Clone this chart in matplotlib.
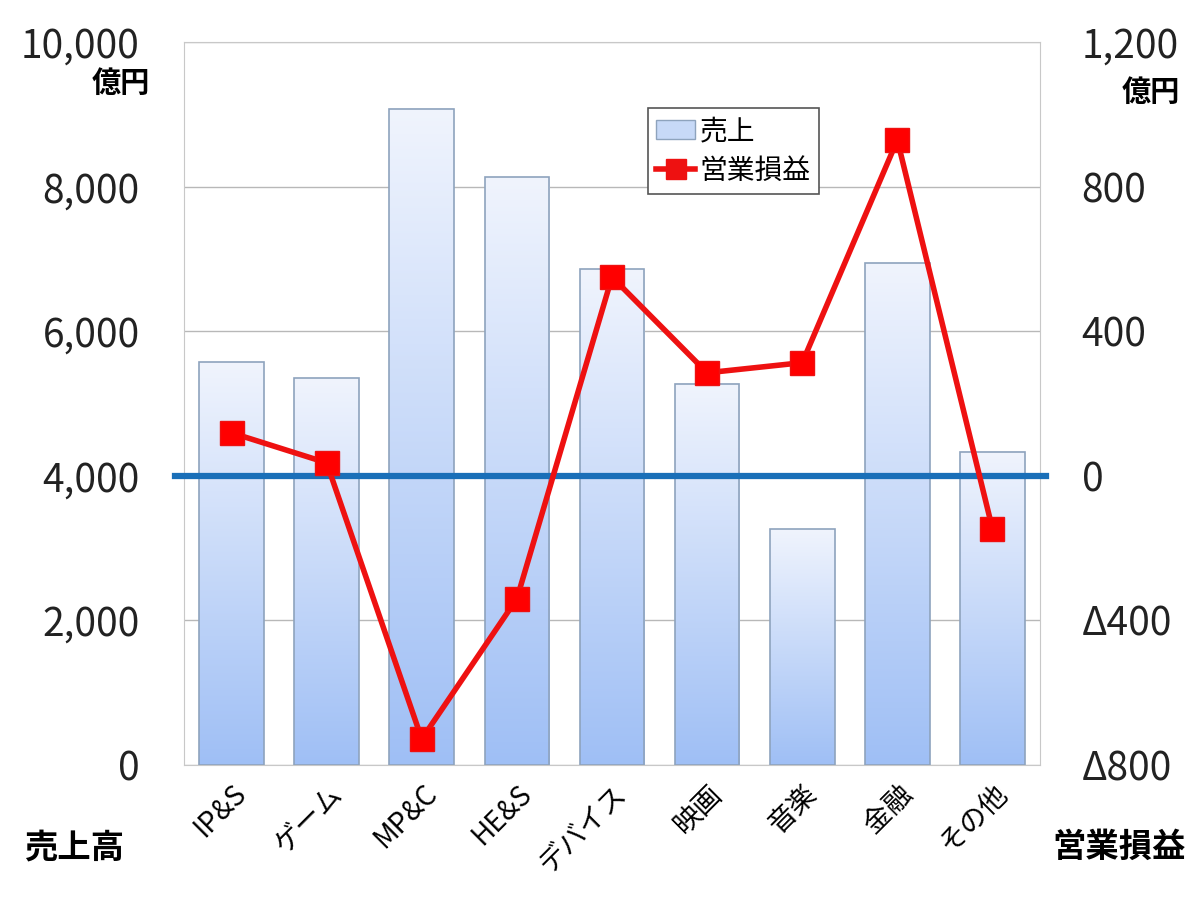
import numpy as np
import matplotlib.pyplot as plt
from matplotlib.colors import LinearSegmentedColormap
from matplotlib.patches import Patch
from matplotlib.lines import Line2D

plt.rcParams['font.family'] = ['Noto Sans CJK JP', 'DejaVu Sans']

categories = ['IP&S', 'ゲーム', 'MP&C', 'HE&S', 'デバイス', '映画', '音楽', '金融', 'その他']
sales = [5570, 5350, 9080, 8130, 6860, 5270, 3260, 6940, 4330]
profit = [119, 36, -728, -340, 550, 285, 313, 929, -147]

left_ticks = [0, 2000, 4000, 6000, 8000, 10000]
left_labels = ['0', '2,000', '4,000', '6,000', '8,000', '10,000']
right_ticks = [-800, -400, 0, 400, 800, 1200]
right_labels = ['Δ800', 'Δ400', '0', '400', '800', '1,200']

fig = plt.figure(figsize=(12, 9), dpi=100)
ax = fig.add_axes([0.1533, 0.15, 0.7134, 0.8033])
ax2 = ax.twinx()

x = np.arange(len(categories))
width = 0.68
grad = LinearSegmentedColormap.from_list('g', ['#9fbff5', '#f0f4fd'])
bars = ax.bar(x, sales, width, facecolor='none', edgecolor='#8ea3bd', linewidth=1.2, zorder=3)
for b in bars:
    x0, y0, w, h = b.get_x(), b.get_y(), b.get_width(), b.get_height()
    ax.imshow(np.linspace(0, 1, 256).reshape(-1, 1), cmap=grad, origin='lower',
              extent=[x0, x0 + w, y0, y0 + h], aspect='auto', zorder=2)

ax.set_xlim(-0.5, len(categories) - 0.5)
ax.set_ylim(0, 10000)
ax.set_yticks(left_ticks)
ax.set_yticklabels(left_labels)
ax.grid(axis='y', color='#b8b8b8', linewidth=1, zorder=1)
ax.set_axisbelow(True)
ax.set_xticks(x)
ax.set_xticklabels(categories, rotation=45, ha='right', rotation_mode='anchor', fontsize=20)
ax.tick_params(axis='x', length=0, pad=10)
ax.tick_params(axis='y', length=0, pad=32, labelsize=28, labelcolor='#222222')
for s in ax.spines.values():
    s.set_color('#c8c8c8')

ax2.set_ylim(-800, 1200)
ax2.set_yticks(right_ticks)
ax2.set_yticklabels(right_labels)
ax2.tick_params(axis='y', length=0, pad=30, labelsize=28, labelcolor='#222222')
for s in ax2.spines.values():
    s.set_visible(False)

# zero line of the profit axis, a bit wider than the plot area
ax2.add_line(Line2D([-0.011, 1.007], [0.4, 0.4], transform=ax2.transAxes,
                    color='#1a6fb8', linewidth=4.5, clip_on=False, zorder=4))
ax2.plot(x, profit, color='#ee1111', linewidth=4, marker='s', markersize=17,
         markerfacecolor='#ff0000', markeredgecolor='#ee1111', zorder=5)

handles = [Patch(facecolor='#c7d9f7', edgecolor='#8ea3bd'),
           Line2D([], [], color='#ee1111', linewidth=4, marker='s', markersize=15)]
leg = ax2.legend(handles, ['売上', '営業損益'], loc='upper left', bbox_to_anchor=(0.542, 0.909),
                 borderaxespad=0, fontsize=20, fancybox=False, framealpha=1, edgecolor='#555555',
                 handlelength=1.4, handletextpad=0.15, borderpad=0.3, labelspacing=0.35)
leg.get_frame().set_linewidth(1.2)

fig.text(0.125, 0.908, '億円', fontsize=21, fontweight='bold', ha='right', va='center')
fig.text(0.983, 0.898, '億円', fontsize=21, fontweight='bold', ha='right', va='center')
fig.text(0.02, 0.058, '売上高', fontsize=24, fontweight='bold', ha='left', va='center')
fig.text(0.988, 0.058, '営業損益', fontsize=24, fontweight='bold', ha='right', va='center')

fig.savefig('out.png', dpi=100, facecolor='white')
